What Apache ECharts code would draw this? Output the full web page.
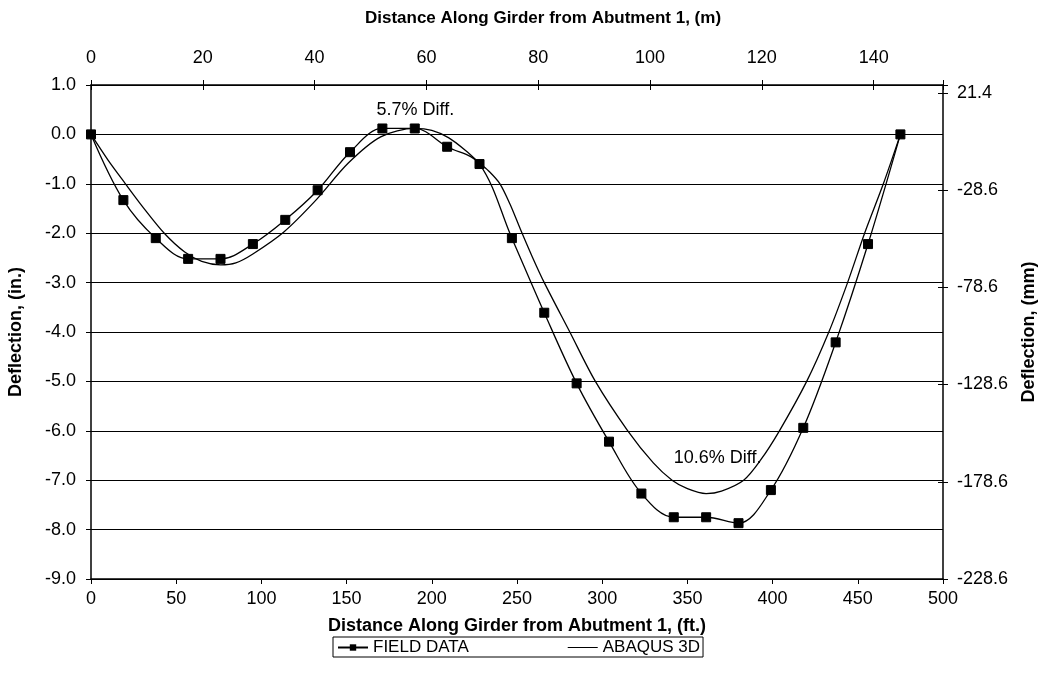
<!DOCTYPE html>
<html>
<head>
<meta charset="utf-8">
<script src="https://cdn.jsdelivr.net/npm/echarts@6/dist/echarts.min.js"></script>
<style>
  html, body { margin: 0; padding: 0; background: #fff; }
  #chartContainer { width: 1040px; height: 683px; }
</style>
</head>
<body>
<div id="chartContainer"></div>
<script>
// field measurements (ft, in.)
const fieldFt = [0, 19, 38, 57, 76, 95, 114, 133, 152, 171, 190, 209, 228, 247, 266, 285, 304, 323, 342, 361, 380, 399, 418, 437, 456, 475];
const fieldIn = [0, -1.33, -2.10, -2.52, -2.52, -2.22, -1.73, -1.13, -0.36, 0.12, 0.12, -0.25, -0.60, -2.10, -3.61, -5.04, -6.22, -7.27, -7.75, -7.75, -7.87, -7.20, -5.94, -4.21, -2.22, 0];

// ABAQUS 3D curve
const abaqusFt = [0, 10, 20, 30, 43, 55, 65, 76, 85, 95, 113, 132, 151, 170, 190, 200, 210, 220, 228, 234, 240, 246, 252, 259, 266, 281, 296, 315, 330, 341, 350, 361, 370, 383, 393, 404, 420, 433, 444, 454, 465, 475];
const abaqusIn = [0, -0.52, -0.99, -1.45, -2.00, -2.38, -2.57, -2.64, -2.60, -2.42, -1.98, -1.33, -0.58, -0.05, 0.12, 0.08, -0.07, -0.33, -0.58, -0.76, -1.00, -1.42, -1.92, -2.48, -3.00, -4.00, -5.00, -6.00, -6.65, -7.00, -7.17, -7.27, -7.22, -7.00, -6.59, -6.00, -5.00, -4.00, -3.00, -2.00, -1.00, 0];

// right axis labels are the mm values shifted by this amount
const mmLabelShift = 21.4;
const annotations = [
    { text: '5.7% Diff.', ft: 190.4, inch: 0.49 },
    { text: '10.6% Diff.', ft: 367.7, inch: -6.56 }
];

const font = 'Liberation Sans, Arial, Helvetica, sans-serif';
const black = '#000';
// plain horizontal line for the ABAQUS legend entry (tiny dots keep the box height)
const lineIcon = 'path://M0,0 L0.01,0 L0.01,0.01 Z M0,3.4 L30,3.4 L30,4.6 L0,4.6 Z M0,8 L0.01,8 L0.01,7.99 Z';

let chart = null;

function zip(xs, ys) {
    return xs.map((x, i) => [x, ys[i]]);
}

document.addEventListener('DOMContentLoaded', function() {
    chart = echarts.init(document.getElementById('chartContainer'), null, { renderer: 'canvas' });

    const labelStyle = { color: black, fontSize: 18, fontFamily: font };
    const nameStyle = { color: black, fontSize: 18, fontWeight: 'bold', fontFamily: font };
    const line = { show: true, onZero: false, lineStyle: { color: black, width: 1.5 } };
    const noLine = { show: false, onZero: false };

    const option = {
        animation: false,
        backgroundColor: '#fff',
        grid: { left: 91, right: 97, top: 85, bottom: 104, outerBoundsMode: 'none', containLabel: false },
        legend: {
            left: 333, top: 637,
            data: [{ name: 'FIELD DATA' }, { name: 'ABAQUS 3D', icon: lineIcon }],
            itemWidth: 30, itemHeight: 8, itemGap: 99,
            borderColor: black, borderWidth: 1, borderRadius: 0,
            padding: [2, 3, 1, 4],
            textStyle: { color: black, fontSize: 17, fontFamily: font }
        },
        xAxis: [
            {
                type: 'value', position: 'bottom', min: 0, max: 500, interval: 50,
                name: 'Distance Along Girder from Abutment 1, (ft.)',
                nameLocation: 'middle', nameGap: 38, nameTextStyle: nameStyle,
                axisLine: line,
                axisTick: { show: true, inside: false, length: 5, lineStyle: { color: black } },
                axisLabel: Object.assign({ margin: 11 }, labelStyle),
                splitLine: { show: false }
            },
            {
                type: 'value', position: 'top', min: 0, max: 152.4, interval: 20,
                name: 'Distance Along Girder from Abutment 1, (m)',
                nameLocation: 'middle', nameGap: 58,
                nameTextStyle: Object.assign({}, nameStyle, { fontSize: 17, padding: [0, 0, 0, 52] }),
                axisLine: line,
                axisTick: { show: true, inside: false, length: 5, lineStyle: { color: black } },
                axisLabel: Object.assign({ margin: 18, formatter: v => v > 141 ? '' : String(v) }, labelStyle),
                splitLine: { show: false }
            },
            {
                // inner half of the top ticks
                type: 'value', position: 'top', min: 0, max: 152.4, interval: 20,
                axisLine: noLine,
                axisTick: { show: true, inside: true, length: 5, lineStyle: { color: black } },
                axisLabel: { show: false },
                splitLine: { show: false }
            }
        ],
        yAxis: [
            {
                type: 'value', position: 'left', min: -9, max: 1, interval: 1,
                name: 'Deflection, (in.)',
                nameLocation: 'middle', nameGap: 66, nameTextStyle: nameStyle,
                axisLine: line,
                axisTick: { show: true, inside: false, length: 5, lineStyle: { color: black } },
                axisLabel: Object.assign({ margin: 15, formatter: v => v.toFixed(1) }, labelStyle),
                splitLine: { show: true, lineStyle: { color: black, width: 1 } }
            },
            {
                // mm axis, offset so that min is a multiple of the interval
                type: 'value', position: 'right', min: -250, max: 4, interval: 50,
                name: 'Deflection, (mm)',
                nameLocation: 'middle', nameGap: 77, nameTextStyle: nameStyle,
                axisLine: line,
                axisTick: { show: true, inside: false, length: 5, lineStyle: { color: black } },
                axisLabel: Object.assign({
                    margin: 14,
                    formatter: v => v > 1 ? '' : (v + mmLabelShift).toFixed(1)
                }, labelStyle),
                splitLine: { show: false }
            },
            {
                type: 'value', position: 'left', min: -9, max: 1, interval: 1,
                axisLine: noLine,
                axisTick: { show: true, inside: true, length: 5, lineStyle: { color: black } },
                axisLabel: { show: false },
                splitLine: { show: false }
            },
            {
                type: 'value', position: 'right', min: -250, max: 4, interval: 50,
                axisLine: noLine,
                axisTick: { show: true, inside: true, length: 5, lineStyle: { color: black } },
                axisLabel: { show: false },
                splitLine: { show: false }
            }
        ],
        series: [
            {
                name: 'FIELD DATA', type: 'line', xAxisIndex: 0, yAxisIndex: 0,
                data: zip(fieldFt, fieldIn),
                smooth: 0.35,
                symbol: 'rect', symbolSize: 9, showSymbol: true,
                lineStyle: { color: black, width: 1.3 },
                itemStyle: { color: black, borderColor: black }
            },
            {
                name: 'ABAQUS 3D', type: 'line', xAxisIndex: 0, yAxisIndex: 0,
                data: zip(abaqusFt, abaqusIn),
                smooth: 0.3,
                symbol: 'none',
                lineStyle: { color: black, width: 1.3 },
                itemStyle: { color: black }
            }
        ]
    };

    chart.setOption(option);

    const texts = annotations.map(a => {
        const p = chart.convertToPixel({ xAxisIndex: 0, yAxisIndex: 0 }, [a.ft, a.inch]);
        return {
            type: 'text', x: p[0], y: p[1], z: 10,
            style: { text: a.text, fill: black, fontSize: 18, fontFamily: font, align: 'center', verticalAlign: 'middle' }
        };
    });
    chart.setOption({ graphic: texts });
});
</script>
</body>
</html>
